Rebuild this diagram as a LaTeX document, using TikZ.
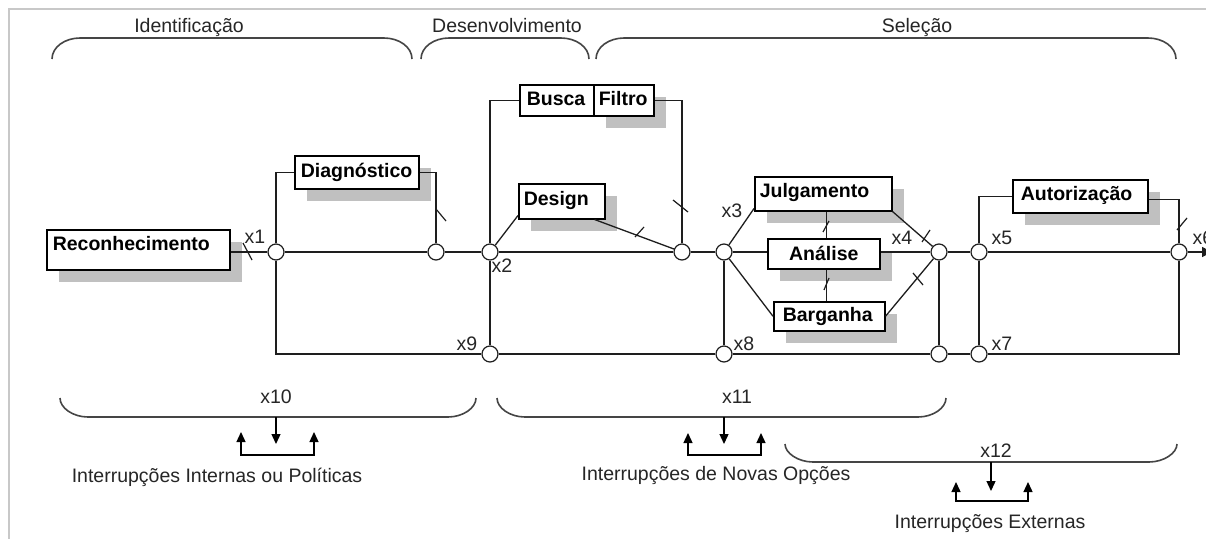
\documentclass[tikz,border=0pt]{standalone}
\usepackage{fontspec}
\setmainfont{Liberation Sans}
\usetikzlibrary{arrows.meta,shadows}
\definecolor{shadegray}{HTML}{C0C0C0}
\definecolor{ink}{HTML}{1E1E1E}
\definecolor{framegray}{HTML}{C8C8C8}
\definecolor{bracegray}{HTML}{454545}

% rounded bracket opening downwards: x-left, x-right, y of the bar, y of the ends
\newcommand\topbrace[4]{\draw[brace] (#1,#4) .. controls (#1,#3+9) and (#1+13,#3) .. (#1+28,#3) -- (#2-28,#3) .. controls (#2-13,#3) and (#2,#3+9) .. (#2,#4);}
% rounded bracket opening upwards: x-left, x-right, y of the ends, y of the bar
\newcommand\lowbrace[4]{\draw[brace] (#1,#3) .. controls (#1,#4-9) and (#1+13,#4) .. (#1+28,#4) -- (#2-28,#4) .. controls (#2-13,#4) and (#2,#4-9) .. (#2,#3);}
% interruption symbol: left x, middle x, right x, start y, up tips y, down tip y, bracket y
\newcommand\interrupt[7]{%
  \draw[arrowline,-{Triangle[width=9pt,length=10pt]}] (#2,#4) -- (#2,#6);
  \draw[arrowline,{Triangle[width=9pt,length=10pt]}-{Triangle[width=9pt,length=10pt]}] (#1,#5) -- (#1,#7) -- (#3,#7) -- (#3,#5);}

\begin{document}
\begin{tikzpicture}[x=1pt,y=-1pt,
  lbl/.style={font=\fontsize{19.5}{22}\selectfont, inner sep=0pt, anchor=base, text=black!85},
  box/.style={draw=black, line width=1.5pt, fill=white, anchor=north west,
    font=\bfseries\fontsize{19.5}{22}\selectfont, inner ysep=0pt, align=left},
  shaded/.style={drop shadow={shadow xshift=12pt, shadow yshift=-12pt, opacity=1, fill=shadegray}},
  junc/.style={circle, draw=ink, line width=1.2pt, fill=white, minimum size=16pt, inner sep=0pt},
  conn/.style={draw=ink, line width=1.3pt},
  tickline/.style={draw=ink, line width=1.2pt},
  brace/.style={draw=bracegray, line width=1.6pt},
  arrowline/.style={draw=black, line width=1.3pt}
]
\useasboundingbox (0,0) rectangle (1206,538);
\fill[white] (0,0) rectangle (1206,538);
\draw[framegray, line width=1.5pt] (9,540) -- (9,9) -- (1208,9);

% phase headings
\node[lbl] (tid) at (189,32) {Identificação};
\node[lbl] (tdev) at (507,32) {Desenvolvimento};
\node[lbl] (tsel) at (917,32) {Seleção};
\topbrace{52}{412}{38}{59}
\topbrace{421}{589}{38}{59}
\topbrace{596}{1176}{38}{59}

% routines
\node[box, shaded, inner xsep=6pt, text width=171pt, text height=21pt, text depth=19pt] (rec) at (46,229) {Reconhecimento};
\node[box, shaded, inner xsep=6pt, text width=112pt, text height=22pt, text depth=11pt] (diag) at (294,155) {Diagnóstico};
\node[box, shaded, inner xsep=5pt, text width=50pt, text height=21pt, text depth=10pt] (filtro) at (593,84) {Filtro};
\node[box, inner xsep=7pt, text width=60pt, text height=21pt, text depth=10pt] (busca) at (519,84) {Busca};
\node[box, shaded, inner xsep=5pt, text width=76pt, text height=22pt, text depth=13pt] (design) at (518,183) {Design};
\node[box, shaded, inner xsep=5pt, text width=127pt, text height=21pt, text depth=13pt] (julg) at (754,176) {Julgamento};
\node[box, shaded, inner xsep=5pt, text width=102pt, text height=22pt, text depth=8pt, align=center] (anal) at (767,238) {Análise};
\node[box, shaded, inner xsep=9pt, text width=93pt, text height=20pt, text depth=9pt] (barg) at (773,301) {Barganha};
\node[box, shaded, inner xsep=8pt, text width=119pt, text height=21pt, text depth=12pt] (aut) at (1012,179) {Autorização};

% junctions
\node[junc] (x1) at (276,252) {};
\node[junc] (c2) at (436,252) {};
\node[junc] (x2) at (490,252) {};
\node[junc] (j2) at (682,252) {};
\node[junc] (x3) at (724,252) {};
\node[junc] (x4) at (939,252) {};
\node[junc] (x5) at (979,252) {};
\node[junc] (x6) at (1179,252) {};
\node[junc] (x9) at (490,354) {};
\node[junc] (x8) at (724,354) {};
\node[junc] (c4) at (939,354) {};
\node[junc] (x7) at (979,354) {};
\coordinate (out) at (1212,252);

% main line
\draw[conn] (rec.east |- x1) -- (x1);
\draw[conn] (x1) -- (c2);
\draw[conn] (c2) -- (x2);
\draw[conn] (x2) -- (j2);
\draw[conn] (j2) -- (x3);
\draw[conn] (x3) -- (anal.west |- x3);
\draw[conn] (anal.east |- x4) -- (x4);
\draw[conn] (x4) -- (x5);
\draw[conn] (x5) -- (x6);
\draw[conn, -{Triangle[width=10pt,length=10pt]}] (x6) -- (out);

% loops and branches
\draw[conn] (x1) |- (diag.west);
\draw[conn] (diag.east) -| (c2);
\draw[conn] (x1) |- (x9);
\draw[conn] (busca.west) -| (x2);
\draw[conn] (x2) -- (x9);
\draw[conn] (filtro.east) -| (j2);
\draw[conn] (x2) -- ([yshift=4pt]design.south west);
\draw[conn] ([xshift=-11pt]design.south east) -- (j2);
\draw[conn] (x3) -- ([yshift=3pt]julg.south west);
\draw[conn] (julg.south east) -- (x4);
\draw[conn] (x3) -- (barg.west);
\draw[conn] (barg.east) -- (x4);
\draw[conn] ([xshift=3pt]julg.south) -- ([xshift=3pt]julg.south |- anal.north);
\draw[conn] ([xshift=3pt]anal.south) -- ([xshift=3pt]anal.south |- barg.north);
\draw[conn] (x3) -- (x8);
\draw[conn] (x4) -- (c4);
\draw[conn] (x5) |- (aut.west);
\draw[conn] ([yshift=-3pt]aut.east) -| (x6);
\draw[conn] (x5) -- (x7);
\draw[conn] (x9) -- (x8);
\draw[conn] (x8) -- (c4);
\draw[conn] (c4) -- (x7);
\draw[conn] (x7) -| (x6);

% interruption ticks
\draw[tickline] (243,243) -- (252,260);
\draw[tickline] (436,209) -- (446,221);
\draw[tickline] (673,200) -- (688,212);
\draw[tickline] (635,237) -- (644,227);
\draw[tickline] (823,232) -- (829,221);
\draw[tickline] (824,290) -- (829,278);
\draw[tickline] (922,242) -- (930,230);
\draw[tickline] (913,273) -- (923,285);
\draw[tickline] (1177,230) -- (1187,218);

% junction labels
\node[lbl] (lx1) at (255,243) {x1};
\node[lbl] (lx2) at (502,272) {x2};
\node[lbl] (lx3) at (732,217) {x3};
\node[lbl] (lx4) at (902,244) {x4};
\node[lbl] (lx5) at (1002,244) {x5};
\node[lbl] (lx6) at (1203,244) {x6};
\node[lbl] (lx7) at (1002,350) {x7};
\node[lbl] (lx8) at (744,350) {x8};
\node[lbl] (lx9) at (467,350) {x9};

% interruptions
\lowbrace{60}{476}{398}{417}
\lowbrace{497}{946}{398}{417}
\lowbrace{785}{1177}{444}{462}
\node[lbl] (lx10) at (276,403) {x10};
\node[lbl] (lx11) at (737,403) {x11};
\node[lbl] (lx12) at (996,457) {x12};
\interrupt{241}{276}{314}{417}{432}{444}{455}
\interrupt{688}{724}{761}{417}{433}{444}{455}
\interrupt{956}{991}{1028}{462}{482}{491}{501}
\node[lbl] (i10) at (217,482) {Interrupções Internas ou Políticas};
\node[lbl] (i11) at (716,480) {Interrupções de Novas Opções};
\node[lbl] (i12) at (990,528) {Interrupções Externas};
\end{tikzpicture}
\end{document}
